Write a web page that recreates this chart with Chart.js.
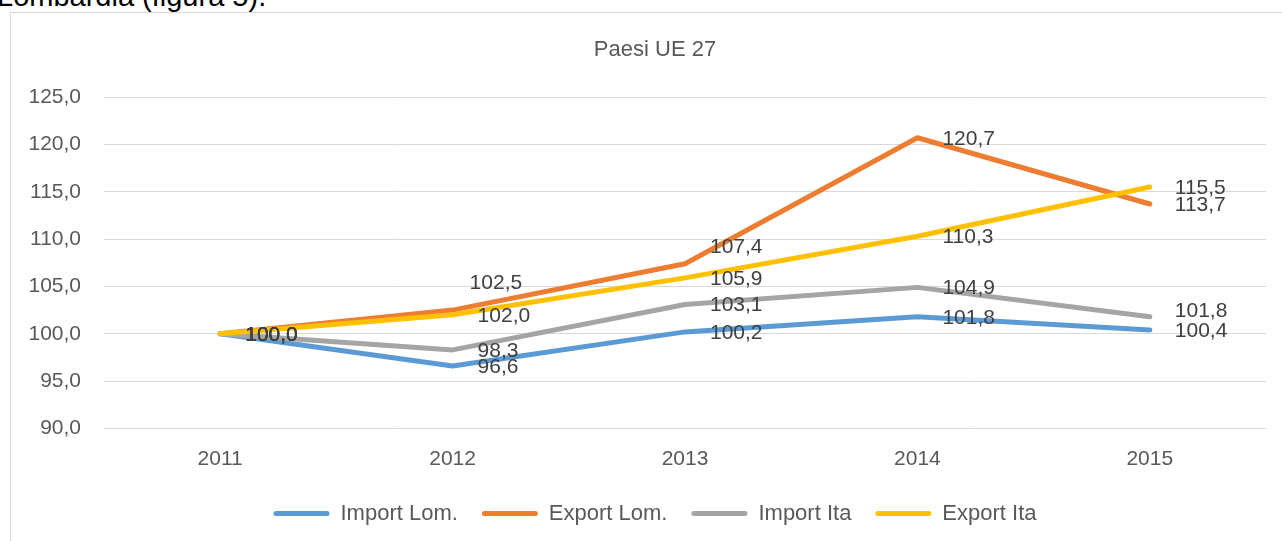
<!DOCTYPE html>
<html><head><meta charset="utf-8">
<script src="https://cdn.jsdelivr.net/npm/chart.js@4.4.0/dist/chart.umd.min.js"></script>
<style>
html,body{margin:0;padding:0;background:#fff;overflow:hidden;width:1282px;height:541px;}
#heading{position:absolute;left:-3px;top:-18px;font:29px/29px "Liberation Sans",Arial,sans-serif;color:#000;white-space:nowrap;margin:0;}
#frame{position:absolute;left:10px;top:12px;width:1300px;height:600px;border:1px solid #d9d9d9;box-sizing:border-box;}
#wrap{position:absolute;left:0;top:0;width:1282px;height:541px;}
</style></head><body>
<p id="heading">Lombardia (figura 5).</p>
<div id="frame"></div>
<div id="wrap"><canvas id="c" width="1282" height="541"></canvas></div>
<script>
const categories = ['2011', '2012', '2013', '2014', '2015'];
const importLom = [100.0, 96.6, 100.2, 101.8, 100.4];
const exportLom = [100.0, 102.5, 107.4, 120.7, 113.7];
const importIta = [100.0, 98.3, 103.1, 104.9, 101.8];
const exportIta = [100.0, 102.0, 105.9, 110.3, 115.5];
const yTicks = [90, 95, 100, 105, 110, 115, 120, 125];
const seriesNames = ['Import Lom.', 'Export Lom.', 'Import Ita', 'Export Ita'];
const seriesColors = ['#5B9BD5', '#ED7D31', '#A5A5A5', '#FFC000'];
const chartTitle = 'Paesi UE 27';

// label nudges (offsets in px from the default right-of-point position)
const labelNudge = {
  'Export Lom.': [[0, 0], [-8, -28], [0, -17], [0, 0], [0, 0]],
  'Import Ita': [[0, 0], [0, 0], [0, 0], [0, 0], [0, -7]]
};

const FONT = '"Liberation Sans", Arial, sans-serif';
const fmt = v => v.toFixed(1).replace('.', ',');

const dataLabels = {
  id: 'dataLabels',
  afterLayout(chart) {
    // let the y tick labels extend to the left of the padded area (avoid clipping)
    chart.scales.y.left = 0;
  },
  afterDatasetsDraw(chart) {
    const ctx = chart.ctx;
    ctx.save();
    ctx.font = '21px ' + FONT;
    ctx.fillStyle = '#404040';
    ctx.textAlign = 'left';
    ctx.textBaseline = 'middle';
    chart.data.datasets.forEach((ds, i) => {
      const meta = chart.getDatasetMeta(i);
      meta.data.forEach((pt, j) => {
        const n = (labelNudge[ds.label] || [])[j] || [0, 0];
        ctx.fillText(fmt(ds.data[j]), pt.x + 25 + n[0], pt.y + 1 + n[1]);
      });
    });
    ctx.restore();
  }
};

const allSeries = [importLom, exportLom, importIta, exportIta];
const datasets = allSeries.map((d, i) => ({
  label: seriesNames[i],
  data: d,
  borderColor: seriesColors[i],
  backgroundColor: seriesColors[i],
  borderWidth: 5,
  borderCapStyle: 'round',
  borderJoinStyle: 'round',
  pointRadius: 0,
  pointHoverRadius: 0,
  tension: 0,
  fill: false,
  order: allSeries.length - i
}));

new Chart(document.getElementById('c'), {
  type: 'line',
  data: { labels: categories, datasets },
  plugins: [dataLabels],
  options: {
    responsive: false,
    animation: false,
    events: [],
    layout: { padding: { left: 44, right: 16, top: 0, bottom: 6.5 } },
    plugins: {
      tooltip: { enabled: false },
      title: {
        display: true,
        text: chartTitle,
        color: '#595959',
        font: { family: FONT, size: 22, weight: 'normal' },
        padding: { top: 37, bottom: 33.6 }
      },
      legend: {
        position: 'bottom',
        labels: {
          color: '#595959',
          font: { family: FONT, size: 22 },
          boxWidth: 56,
          boxHeight: 5,
          useBorderRadius: true,
          borderRadius: 2.5,
          padding: 24,
          sort: (a, b) => a.datasetIndex - b.datasetIndex,
          generateLabels: chart => Chart.defaults.plugins.legend.labels.generateLabels(chart).map(l => Object.assign(l, { lineWidth: 0 }))
        }
      }
    },
    scales: {
      x: {
        offset: true,
        grid: { display: false, drawTicks: false },
        border: { display: false },
        ticks: { color: '#595959', font: { family: FONT, size: 21 }, padding: 18, maxRotation: 0 },
        afterFit: s => { s.height = 50; }
      },
      y: {
        min: 90,
        max: 125,
        afterBuildTicks: s => { s.ticks = yTicks.map(v => ({ value: v })); },
        grid: { color: '#d9d9d9', lineWidth: 1, drawTicks: false },
        border: { display: false },
        ticks: { color: '#595959', font: { family: FONT, size: 21 }, padding: 23, callback: v => fmt(v) },
        afterFit: s => { s.width = 60; }
      }
    }
  }
});
</script>
</body></html>
